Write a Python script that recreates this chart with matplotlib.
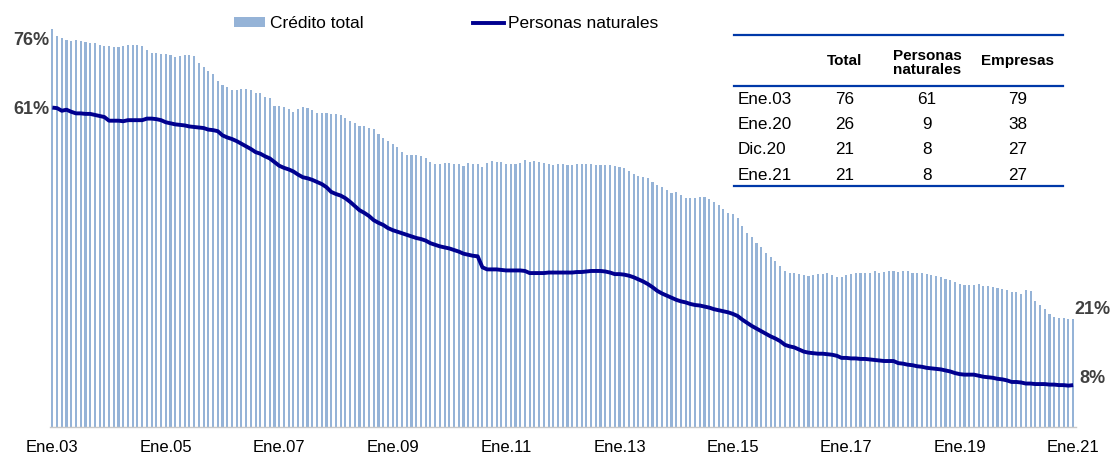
import numpy as np
import matplotlib
matplotlib.use("Agg")
import matplotlib.pyplot as plt
from matplotlib.patches import Patch
from matplotlib.lines import Line2D

plt.rcParams['font.family'] = ['Liberation Sans', 'DejaVu Sans']

# Monthly data, Ene.03 .. Ene.21 (percent)
credito_total = [
    76.0, 74.7, 74.3, 74.0, 73.8, 73.9, 73.8, 73.6, 73.4, 73.4,
    72.9, 72.8, 72.7, 72.5, 72.5, 72.7, 73.0, 73.0, 73.0, 72.7,
    72.0, 71.4, 71.4, 71.3, 71.3, 71.0, 70.7, 70.8, 71.0, 71.0,
    70.8, 69.6, 68.8, 68.0, 67.4, 66.1, 65.3, 65.0, 64.4, 64.4,
    64.6, 64.6, 64.3, 63.7, 63.8, 63.1, 62.8, 61.4, 61.3, 61.1,
    60.8, 60.1, 60.8, 61.1, 61.0, 60.5, 59.9, 60.0, 59.9, 59.8,
    59.7, 59.5, 59.1, 58.4, 58.0, 57.4, 57.4, 57.2, 56.9, 55.9,
    55.2, 54.7, 54.1, 53.4, 52.5, 52.0, 52.0, 51.9, 51.8, 51.4,
    50.6, 50.3, 50.3, 50.4, 50.5, 50.3, 50.3, 49.9, 50.5, 50.2,
    50.2, 49.6, 50.4, 50.8, 50.7, 50.6, 50.3, 50.3, 50.3, 50.4,
    50.9, 50.7, 50.8, 50.7, 50.4, 50.3, 50.0, 50.2, 50.3, 50.0,
    50.1, 50.2, 50.2, 50.2, 50.2, 50.1, 50.1, 50.0, 50.0, 49.8,
    49.6, 49.4, 48.9, 48.4, 48.0, 47.8, 47.5, 46.8, 46.3, 45.8,
    45.2, 44.6, 44.9, 44.3, 43.7, 43.7, 43.8, 44.0, 44.0, 43.5,
    43.0, 42.4, 41.6, 40.8, 40.6, 40.0, 38.4, 37.1, 36.3, 35.2,
    34.3, 33.3, 32.4, 31.7, 30.8, 29.7, 29.5, 29.4, 29.2, 29.1,
    28.9, 29.1, 29.2, 29.3, 29.4, 29.0, 28.7, 28.7, 29.1, 29.3,
    29.4, 29.4, 29.5, 29.5, 29.7, 29.5, 29.6, 29.7, 29.8, 29.6,
    29.8, 29.7, 29.5, 29.4, 29.4, 29.3, 29.0, 28.8, 28.7, 28.2,
    28.1, 27.6, 27.3, 27.1, 27.1, 27.1, 27.4, 27.0, 27.0, 26.7,
    26.6, 26.4, 26.2, 25.7, 25.8, 25.4, 26.2, 26.0, 24.0, 23.3,
    22.6, 21.6, 21.0, 20.8, 20.8, 20.7, 20.7,
]

personas_naturales = [
    61.0, 60.9, 60.4, 60.6, 60.2, 59.9, 59.9, 59.8, 59.8, 59.6,
    59.4, 59.2, 58.5, 58.5, 58.5, 58.4, 58.6, 58.6, 58.6, 58.6,
    58.9, 58.9, 58.8, 58.6, 58.2, 58.0, 57.8, 57.7, 57.6, 57.4,
    57.3, 57.2, 57.1, 56.8, 56.7, 56.5, 55.7, 55.3, 55.0, 54.6,
    54.1, 53.6, 53.1, 52.5, 52.2, 51.7, 51.3, 50.6, 49.9, 49.5,
    49.2, 48.8, 48.2, 47.7, 47.5, 47.2, 46.8, 46.4, 45.8, 44.9,
    44.5, 44.2, 43.7, 43.0, 42.2, 41.4, 40.9, 40.3, 39.5, 39.0,
    38.6, 38.0, 37.6, 37.3, 37.0, 36.7, 36.4, 36.1, 35.9, 35.6,
    35.1, 34.8, 34.5, 34.3, 34.1, 33.8, 33.5, 33.1, 32.9, 32.7,
    32.6, 30.5, 30.1, 30.1, 30.1, 30.0, 29.9, 29.9, 29.9, 29.9,
    29.8, 29.4, 29.4, 29.4, 29.4, 29.5, 29.5, 29.5, 29.5, 29.5,
    29.5, 29.6, 29.6, 29.7, 29.8, 29.8, 29.8, 29.7, 29.5, 29.2,
    29.2, 29.1, 28.9, 28.6, 28.2, 27.8, 27.3, 26.7, 26.0, 25.5,
    25.1, 24.7, 24.3, 24.0, 23.8, 23.5, 23.3, 23.2, 23.0, 22.8,
    22.5, 22.3, 22.1, 21.9, 21.6, 21.2, 20.5, 19.9, 19.3, 18.8,
    18.3, 17.8, 17.3, 16.9, 16.4, 15.7, 15.4, 15.2, 14.8, 14.4,
    14.2, 14.1, 14.0, 14.0, 13.9, 13.8, 13.6, 13.2, 13.2, 13.1,
    13.1, 13.0, 13.0, 12.9, 12.8, 12.7, 12.6, 12.6, 12.6, 12.2,
    12.1, 11.9, 11.8, 11.6, 11.5, 11.3, 11.2, 11.1, 11.0, 10.8,
    10.6, 10.3, 10.1, 10.0, 10.0, 10.0, 9.8, 9.6, 9.5, 9.4,
    9.2, 9.1, 8.9, 8.6, 8.6, 8.5, 8.3, 8.3, 8.2, 8.2,
    8.2, 8.1, 8.1, 8.0, 8.0, 7.9, 8.0,
]

tick_labels = ['Ene.03', 'Ene.05', 'Ene.07', 'Ene.09', 'Ene.11',
               'Ene.13', 'Ene.15', 'Ene.17', 'Ene.19', 'Ene.21']

# Summary table
tabla_fechas = ['Ene.03', 'Ene.20', 'Dic.20', 'Ene.21']
tabla_total = [76, 26, 21, 21]
tabla_personas = [61, 9, 8, 8]
tabla_empresas = [79, 38, 27, 27]

bar_color = '#95B3D7'
line_color = '#00008F'
table_color = '#0038A8'

W, H = 1110, 455
fig = plt.figure(figsize=(W / 100, H / 100), dpi=100)
ax = fig.add_axes([50 / W, (H - 427) / H, 1025.5 / W, 408.4 / H])

x = np.arange(len(credito_total))
ax.bar(x, credito_total, width=0.45, color=bar_color, linewidth=0, zorder=1)
ax.plot(x, personas_naturales, color=line_color, lw=2.8, zorder=3,
        solid_capstyle='butt')

ax.set_xlim(-0.5, len(x) - 0.5)
ax.set_ylim(0, 78)
for s in ['top', 'right', 'left']:
    ax.spines[s].set_visible(False)
ax.spines['bottom'].set_color('#C8C8C8')
ax.spines['bottom'].set_linewidth(1.0)
ax.set_yticks([])
ax.set_xticks(x[::24])
ax.set_xticklabels(tick_labels, fontsize=12)
ax.tick_params(axis='x', length=0, pad=9)

# Data labels at the ends
lab = dict(fontsize=13, fontweight='bold', color='#404040',
           textcoords='offset points')
ax.annotate(f"{round(credito_total[0])}%", (0, credito_total[0]),
            xytext=(-1.8, -8), ha='right', va='center', **lab)
ax.annotate(f"{round(personas_naturales[0])}%", (0, personas_naturales[0]),
            xytext=(-1.8, -1.5), ha='right', va='center', **lab)
ax.annotate(f"{round(credito_total[-1])}%", (x[-1], credito_total[-1]),
            xytext=(1, 6.5), ha='left', va='center', **lab)
ax.annotate(f"{round(personas_naturales[-1])}%", (x[-1], personas_naturales[-1]),
            xytext=(4.5, 5), ha='left', va='center', **lab)

# Legend
handles = [Patch(facecolor=bar_color, edgecolor='none'),
           Line2D([], [], color=line_color, lw=2.8)]
fig.legend(handles, ['Crédito total', 'Personas naturales'], ncol=2,
           loc='center left', bbox_to_anchor=(234 / W, 1 - 24 / H),
           frameon=False, fontsize=12.5, handlelength=1.8, handleheight=0.5,
           handletextpad=0.25, columnspacing=6.3, borderpad=0,
           borderaxespad=0)

# Table (figure pixel coordinates converted)
def fx(px):
    return px / W

def fy(py):
    return 1 - py / H

for ly in [35, 86, 186]:
    fig.add_artist(Line2D([fx(734), fx(1063)], [fy(ly), fy(ly)],
                          color=table_color, lw=1.6))

col_x = [845, 927, 1018]
hdr = dict(fontsize=11, fontweight='bold', ha='center', va='center')
fig.text(fx(col_x[0]), fy(61), 'Total', **hdr)
fig.text(fx(col_x[1]), fy(63), 'Personas\nnaturales', linespacing=1.05, **hdr)
fig.text(fx(col_x[2]), fy(61), 'Empresas', **hdr)

row_y = [100, 124.5, 150, 175]
for ry, f, t, p, e in zip(row_y, tabla_fechas, tabla_total, tabla_personas,
                          tabla_empresas):
    fig.text(fx(738), fy(ry), f, fontsize=12.3, ha='left', va='center')
    for cx, v in zip(col_x, [t, p, e]):
        fig.text(fx(cx), fy(ry), str(v), fontsize=12.3, ha='center', va='center')

fig.savefig('out.png', dpi=100)
